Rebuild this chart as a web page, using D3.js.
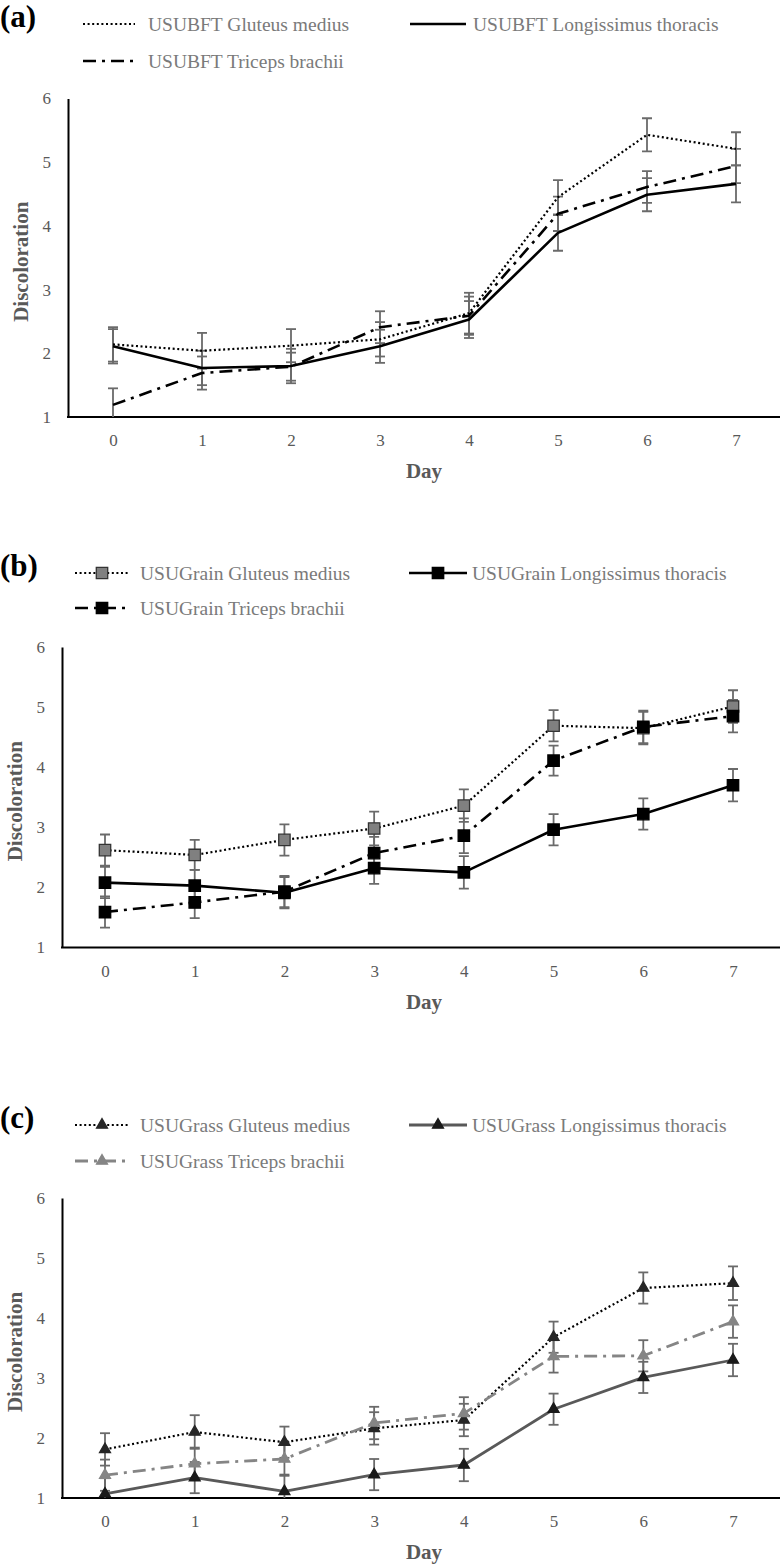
<!DOCTYPE html>
<html>
<head>
<meta charset="utf-8">
<script src="https://cdn.jsdelivr.net/npm/d3@7"></script>
<style>
  html, body { margin: 0; padding: 0; background: #fff; }
  svg { display: block; font-family: "Liberation Serif", "Times New Roman", serif; }
</style>
</head>
<body>
<svg id="chart" width="780" height="1564"></svg>
<script>
// ---------- data ----------
const days = [0, 1, 2, 3, 4, 5, 6, 7];
const yTicks = [1, 2, 3, 4, 5, 6];

// (a) USUBFT
const bftGM = [2.14, 2.04, 2.12, 2.22, 2.63, 4.45, 5.43, 5.21];
const bftGMErr = [0.27, 0.28, 0.26, 0.27, 0.32, 0.27, 0.26, 0.26];
const bftLT = [2.11, 1.77, 1.80, 2.11, 2.53, 3.89, 4.49, 4.66];
const bftLTErr = [0.27, 0.27, 0.27, 0.26, 0.29, 0.28, 0.26, 0.29];
const bftTB = [1.19, 1.69, 1.79, 2.41, 2.59, 4.19, 4.61, 4.94];
const bftTBErr = [0.26, 0.26, 0.22, 0.25, 0.30, 0.27, 0.25, 0.27];

// (b) USUGrain
const grainGM = [2.62, 2.54, 2.79, 2.98, 3.36, 4.69, 4.65, 5.01];
const grainGMErr = [0.26, 0.25, 0.26, 0.28, 0.27, 0.26, 0.27, 0.27];
const grainLT = [2.08, 2.03, 1.91, 2.32, 2.25, 2.96, 3.22, 3.70];
const grainLTErr = [0.26, 0.26, 0.26, 0.26, 0.27, 0.26, 0.26, 0.27];
const grainTB = [1.59, 1.75, 1.93, 2.57, 2.86, 4.11, 4.67, 4.85];
const grainTBErr = [0.26, 0.26, 0.26, 0.27, 0.29, 0.25, 0.27, 0.27];

// (c) USUGrass
const grassGM = [1.81, 2.10, 1.93, 2.16, 2.30, 3.68, 4.50, 4.58];
const grassGMErr = [0.27, 0.28, 0.26, 0.27, 0.27, 0.26, 0.26, 0.28];
const grassLT = [1.07, 1.34, 1.11, 1.39, 1.55, 2.48, 3.01, 3.30];
const grassLTErr = [0.26, 0.26, 0.28, 0.26, 0.27, 0.26, 0.26, 0.27];
const grassTB = [1.38, 1.57, 1.65, 2.25, 2.41, 3.36, 3.37, 3.94];
const grassTBErr = [0.26, 0.27, 0.28, 0.27, 0.27, 0.27, 0.26, 0.27];

const panelLabels = ["(a)", "(b)", "(c)"];
const bftNames = ["USUBFT Gluteus medius", "USUBFT Longissimus thoracis", "USUBFT Triceps brachii"];
const grainNames = ["USUGrain Gluteus medius", "USUGrain Longissimus thoracis", "USUGrain Triceps brachii"];
const grassNames = ["USUGrass Gluteus medius", "USUGrass Longissimus thoracis", "USUGrass Triceps brachii"];
const yTitle = "Discoloration";
const xTitle = "Day";

// ---------- styles ----------
const DOT = "2,2.6";
const DASHDOT = "13,6,3,6";
const ERR_COLOR = "#6a6a6a";
const TEXT_GRAY = "#7a7a7a";
const TICK_GRAY = "#595959";

const svg = d3.select("#chart");

const panels = [
  {
    label: panelLabels[0], top: 98.5, bottom: 417, left: 68, xr: [113, 736],
    rows: [24, 61], labelY: 27, samp1: [83, 135], txt1: 148, samp2: [410, 466], txt2: 473,
    marker: null,
    series: [
      { name: bftNames[0], v: bftGM, e: bftGMErr, stroke: "#000", width: 2.2, dash: DOT, row: 0, col: 0 },
      { name: bftNames[1], v: bftLT, e: bftLTErr, stroke: "#000", width: 2.6, dash: null, row: 0, col: 1 },
      { name: bftNames[2], v: bftTB, e: bftTBErr, stroke: "#000", width: 2.6, dash: DASHDOT, row: 1, col: 0 }
    ]
  },
  {
    label: panelLabels[1], top: 647, bottom: 947.5, left: 62, xr: [105, 733],
    rows: [573, 608], labelY: 576, samp1: [75, 129], txt1: 140, samp2: [409, 467], txt2: 472,
    marker: "square",
    series: [
      { name: grainNames[0], v: grainGM, e: grainGMErr, stroke: "#000", width: 2.2, dash: DOT, row: 0, col: 0, fill: "#808080", mstroke: "#333" },
      { name: grainNames[1], v: grainLT, e: grainLTErr, stroke: "#000", width: 2.6, dash: null, row: 0, col: 1, fill: "#000", mstroke: "#000" },
      { name: grainNames[2], v: grainTB, e: grainTBErr, stroke: "#000", width: 2.6, dash: DASHDOT, row: 1, col: 0, fill: "#000", mstroke: "#000" }
    ]
  },
  {
    label: panelLabels[2], top: 1198, bottom: 1498, left: 62, xr: [105, 733],
    rows: [1125, 1161], labelY: 1128, samp1: [75, 129], txt1: 140, samp2: [409, 467], txt2: 472,
    marker: "triangle",
    series: [
      { name: grassNames[0], v: grassGM, e: grassGMErr, stroke: "#000", width: 2.2, dash: DOT, row: 0, col: 0, fill: "#262626", mstroke: "#262626" },
      { name: grassNames[1], v: grassLT, e: grassLTErr, stroke: "#595959", width: 2.8, dash: null, row: 0, col: 1, fill: "#1a1a1a", mstroke: "#1a1a1a" },
      { name: grassNames[2], v: grassTB, e: grassTBErr, stroke: "#858585", width: 2.8, dash: DASHDOT, row: 1, col: 0, fill: "#858585", mstroke: "#858585" }
    ]
  }
];

const sqSym = d3.symbol().type(d3.symbolSquare).size(130);
const triSym = d3.symbol().type(d3.symbolTriangle).size(52);

panels.forEach((p, pi) => {
  const x = d3.scalePoint().domain(days).range(p.xr);
  const y = d3.scaleLinear().domain([1, 6]).range([p.bottom, p.top]);
  const g = svg.append("g");

  // clip
  const clipId = "clip" + pi;
  svg.append("defs").append("clipPath").attr("id", clipId)
    .append("rect").attr("x", p.left).attr("y", p.top - 20)
    .attr("width", 780 - p.left).attr("height", p.bottom - p.top + 20);

  // y axis
  const ya = g.append("g").attr("transform", `translate(${p.left},0)`)
    .call(d3.axisLeft(y).tickValues(yTicks).tickFormat(d3.format("d"))
      .tickSize(0).tickPadding(17).tickSizeOuter(0));
  ya.select(".domain").attr("stroke", "#000").attr("stroke-width", 2);
  ya.selectAll("text").attr("font-size", 17).attr("fill", TICK_GRAY)
    .attr("font-family", "Liberation Serif");

  // x axis
  const xa = g.append("g").attr("transform", `translate(0,${p.bottom})`)
    .call(d3.axisBottom(x).tickFormat(d3.format("d")).tickSize(0).tickPadding(17));
  xa.select(".domain").remove();
  xa.selectAll("text").attr("font-size", 17).attr("fill", TICK_GRAY)
    .attr("font-family", "Liberation Serif");
  g.append("line").attr("x1", p.left - 1).attr("x2", 780).attr("y1", p.bottom).attr("y2", p.bottom)
    .attr("stroke", "#000").attr("stroke-width", 2);

  // titles
  g.append("text").attr("transform", `translate(${p.left - 40},${(p.top + p.bottom) / 2 + 4}) rotate(-90)`)
    .attr("text-anchor", "middle").attr("font-weight", "bold").attr("font-size", 21)
    .attr("fill", TICK_GRAY).text(yTitle);
  g.append("text").attr("x", 424).attr("y", p.bottom + 61)
    .attr("text-anchor", "middle").attr("font-weight", "bold").attr("font-size", 21)
    .attr("fill", TICK_GRAY).text(xTitle);

  // panel label
  g.append("text").attr("x", 0).attr("y", p.labelY)
    .attr("font-weight", "bold").attr("font-size", 31).attr("fill", "#000").text(p.label);

  const plot = g.append("g").attr("clip-path", `url(#${clipId})`);

  // error bars
  p.series.forEach(s => {
    const eb = plot.append("g").attr("stroke", ERR_COLOR).attr("stroke-width", 1.8).attr("fill", "none");
    days.forEach((d, i) => {
      const cx = x(d), y1 = y(s.v[i] + s.e[i]), y2 = y(s.v[i] - s.e[i]);
      eb.append("line").attr("x1", cx).attr("x2", cx).attr("y1", y1).attr("y2", y2);
      eb.append("line").attr("x1", cx - 5).attr("x2", cx + 5).attr("y1", y1).attr("y2", y1);
      eb.append("line").attr("x1", cx - 5).attr("x2", cx + 5).attr("y1", y2).attr("y2", y2);
    });
  });

  // lines
  const line = d3.line().x((d, i) => x(days[i])).y(d => y(d));
  p.series.forEach(s => {
    plot.append("path").datum(s.v).attr("d", line).attr("fill", "none")
      .attr("stroke", s.stroke).attr("stroke-width", s.width)
      .attr("stroke-dasharray", s.dash).attr("stroke-linejoin", "round");
  });

  // markers
  if (p.marker) {
    p.series.forEach(s => {
      plot.selectAll(null).data(s.v).enter().append("path")
        .attr("transform", (d, i) => `translate(${x(days[i])},${y(d)})`)
        .attr("d", p.marker === "square" ? sqSym : triSym)
        .attr("fill", s.fill).attr("stroke", s.mstroke).attr("stroke-width", 1.3);
    });
  }

  // legend
  p.series.forEach(s => {
    const ly = p.rows[s.row];
    const samp = s.col === 0 ? p.samp1 : p.samp2;
    const tx = s.col === 0 ? p.txt1 : p.txt2;
    g.append("line").attr("x1", samp[0]).attr("x2", samp[1]).attr("y1", ly).attr("y2", ly)
      .attr("stroke", s.stroke).attr("stroke-width", s.width).attr("stroke-dasharray", s.dash);
    if (p.marker) {
      g.append("path").attr("transform", `translate(${(samp[0] + samp[1]) / 2},${ly})`)
        .attr("d", p.marker === "square" ? sqSym : triSym)
        .attr("fill", s.fill).attr("stroke", s.mstroke).attr("stroke-width", 1.3);
    }
    g.append("text").attr("x", tx).attr("y", ly).attr("dy", "0.35em")
      .attr("font-size", 19.5).attr("fill", TEXT_GRAY).text(s.name);
  });
});
</script>
</body>
</html>
